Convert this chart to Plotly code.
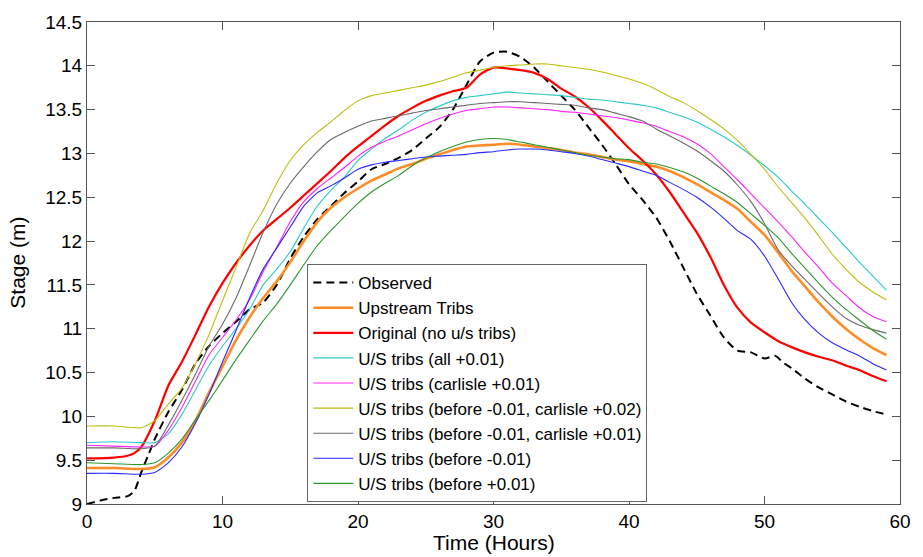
import plotly.graph_objects as go

# ---------------- data ----------------
obs_hours = [0, 1, 2, 3, 3.5, 4, 4.5, 5, 6, 7, 8, 9, 10, 11, 12, 13, 14, 15, 16, 17, 18, 19, 20,
             21, 22, 23, 24, 25, 26, 27, 28, 29, 30, 31, 32, 33, 34, 35, 36, 37, 38, 39, 40, 41,
             42, 43, 44, 45, 46, 47, 48, 49, 50, 50.8, 51.4, 52, 53, 54, 55, 56, 57, 58, 59]
observed = [9.0, 9.04, 9.07, 9.09, 9.15, 9.36, 9.55, 9.74, 10.05, 10.3, 10.6, 10.8, 10.95, 11.08,
            11.22, 11.3, 11.5, 11.8, 12.05, 12.25, 12.4, 12.55, 12.68, 12.82, 12.88, 12.95, 13.04,
            13.17, 13.3, 13.5, 13.78, 14.05, 14.15, 14.16, 14.1, 13.98, 13.82, 13.66, 13.5, 13.3,
            13.1, 12.88, 12.65, 12.47, 12.27, 12.0, 11.7, 11.4, 11.15, 10.9, 10.75, 10.73, 10.66,
            10.69, 10.61, 10.55, 10.43, 10.33, 10.25, 10.17, 10.11, 10.06, 10.02]

hours = [0, 2, 4, 5, 6, 7, 8, 9, 10, 11, 12, 13, 14, 15, 16, 17, 18, 19, 20, 21, 22, 23, 24, 25,
         26, 27, 28, 29, 30, 31, 32, 33, 34, 35, 36, 37, 38, 39, 40, 41, 42, 43, 44, 45, 46, 47,
         48, 49, 50, 51, 52, 53, 54, 55, 56, 57, 58, 59]

red_hours = [0, 2, 3, 3.5, 4, 5, 6, 7, 8, 9, 10, 11, 12, 13, 14, 15, 16, 17, 18, 19, 20, 21, 22,
             23, 24, 25, 26, 27, 28, 29, 30, 31, 32, 33, 34, 35, 36, 37, 38, 39, 40, 41, 42, 43,
             44, 45, 46, 47, 48, 49, 50, 51, 52, 53, 54, 55, 56, 57, 58, 59]
original = [9.52, 9.53, 9.55, 9.58, 9.65, 9.95, 10.35, 10.62, 10.93, 11.25, 11.52, 11.75, 11.95,
            12.12, 12.25, 12.38, 12.52, 12.66, 12.8, 12.95, 13.08, 13.2, 13.32, 13.43, 13.52, 13.6,
            13.66, 13.71, 13.75, 13.9, 13.98, 13.97, 13.95, 13.92, 13.85, 13.74, 13.65, 13.53,
            13.38, 13.22, 13.06, 12.92, 12.76, 12.56, 12.33, 12.1, 11.82, 11.5, 11.24, 11.07,
            10.96, 10.86, 10.79, 10.73, 10.68, 10.64, 10.58, 10.53, 10.46, 10.4]

upstream = [9.41, 9.41, 9.40, 9.42, 9.53, 9.70, 9.95, 10.27, 10.57, 10.87, 11.13, 11.35, 11.54,
            11.76, 12.0, 12.22, 12.38, 12.5, 12.6, 12.69, 12.76, 12.83, 12.88, 12.94, 12.99, 13.04,
            13.08, 13.09, 13.1, 13.11, 13.1, 13.08, 13.06, 13.04, 13.01, 12.99, 12.96, 12.93,
            12.91, 12.88, 12.85, 12.8, 12.73, 12.65, 12.56, 12.47, 12.37, 12.22, 12.07, 11.87,
            11.66, 11.48, 11.3, 11.14, 11.0, 10.88, 10.78, 10.7]

all_p01 = [9.70, 9.71, 9.70, 9.70, 9.80, 10.02, 10.3, 10.58, 10.8, 11.0, 11.22, 11.5, 11.68, 11.88,
           12.15, 12.4, 12.58, 12.73, 12.92, 13.05, 13.17, 13.27, 13.38, 13.47, 13.54, 13.6, 13.64,
           13.66, 13.68, 13.7, 13.69, 13.68, 13.67, 13.66, 13.64, 13.62, 13.61, 13.59, 13.57,
           13.55, 13.52, 13.47, 13.42, 13.36, 13.28, 13.19, 13.09, 12.98, 12.86, 12.73, 12.57,
           12.42, 12.26, 12.1, 11.93, 11.76, 11.6, 11.44]

carlisle_p01 = [9.67, 9.66, 9.65, 9.66, 9.84, 10.1, 10.4, 10.7, 10.9, 11.1, 11.33, 11.65, 11.93,
                12.22, 12.45, 12.6, 12.72, 12.84, 12.97, 13.07, 13.14, 13.2, 13.27, 13.34, 13.4,
                13.45, 13.49, 13.51, 13.53, 13.53, 13.52, 13.51, 13.5, 13.48, 13.47, 13.45, 13.43,
                13.41, 13.38, 13.35, 13.31, 13.25, 13.19, 13.11, 13.0, 12.85, 12.7, 12.54, 12.38,
                12.22, 12.05, 11.87, 11.7, 11.52, 11.38, 11.24, 11.14, 11.08]

bef_m01_carl_p02 = [9.89, 9.89, 9.87, 9.95, 10.14, 10.32, 10.6, 10.93, 11.32, 11.7, 12.09, 12.35,
                    12.66, 12.92, 13.1, 13.24, 13.36, 13.49, 13.6, 13.66, 13.69, 13.72, 13.75,
                    13.78, 13.82, 13.87, 13.92, 13.95, 13.98, 14.0, 14.01, 14.02, 14.02, 14.0,
                    13.98, 13.96, 13.93, 13.89, 13.85, 13.8, 13.73, 13.65, 13.58, 13.49, 13.39,
                    13.28, 13.15, 12.99, 12.82, 12.62, 12.44, 12.26, 12.06, 11.85, 11.68, 11.53,
                    11.42, 11.33]

bef_m01_carl_p01 = [9.64, 9.64, 9.63, 9.66, 9.9, 10.18, 10.48, 10.8, 11.05, 11.35, 11.72, 12.1,
                    12.42, 12.66, 12.85, 13.02, 13.16, 13.24, 13.31, 13.37, 13.4, 13.43, 13.46,
                    13.49, 13.51, 13.53, 13.55, 13.57, 13.58, 13.59, 13.59, 13.58, 13.57, 13.56,
                    13.55, 13.52, 13.5, 13.46, 13.42, 13.37, 13.28, 13.2, 13.12, 13.03, 12.92,
                    12.8, 12.64, 12.45, 12.2, 11.9, 11.72, 11.56, 11.4, 11.25, 11.12, 11.04,
                    10.99, 10.95]

before_m01 = [9.35, 9.35, 9.34, 9.36, 9.47, 9.65, 9.92, 10.25, 10.62, 10.98, 11.35, 11.68, 11.92,
              12.16, 12.4, 12.55, 12.63, 12.72, 12.82, 12.87, 12.9, 12.92, 12.94, 12.96, 12.97,
              12.98, 12.99, 13.01, 13.02, 13.04, 13.05, 13.05, 13.04, 13.02, 13.0, 12.97, 12.93,
              12.89, 12.85, 12.8, 12.75, 12.67, 12.59, 12.5, 12.39, 12.26, 12.12, 12.02, 11.83,
              11.57, 11.3, 11.1, 10.95, 10.84, 10.76, 10.69, 10.6, 10.53]

before_p01 = [9.47, 9.46, 9.45, 9.47, 9.58, 9.74, 9.96, 10.18, 10.41, 10.65, 10.87, 11.09, 11.28,
              11.5, 11.73, 11.95, 12.12, 12.28, 12.43, 12.56, 12.66, 12.75, 12.86, 12.95, 13.02,
              13.08, 13.13, 13.16, 13.17, 13.16, 13.13, 13.1, 13.07, 13.04, 13.01, 12.98, 12.96,
              12.94, 12.93, 12.9, 12.88, 12.84, 12.79, 12.72, 12.63, 12.54, 12.44, 12.31, 12.18,
              12.04, 11.86, 11.69, 11.52, 11.36, 11.22, 11.1, 10.98, 10.88]

x_ticks = [0, 10, 20, 30, 40, 50, 60]
y_ticks = [9, 9.5, 10, 10.5, 11, 11.5, 12, 12.5, 13, 13.5, 14, 14.5]
y_tick_text = ["9", "9.5", "10", "10.5", "11", "11.5", "12", "12.5", "13", "13.5", "14", "14.5"]

# ---------------- figure ----------------
series = [
    ("Observed", obs_hours, observed, "#000000", 2.0, "8px,5px"),
    ("Upstream Tribs", hours, upstream, "#FF8C26", 2.6, "solid"),
    ("Original (no u/s tribs)", red_hours, original, "#FF0000", 2.2, "solid"),
    ("U/S tribs (all +0.01)", hours, all_p01, "#2EC8C8", 1.1, "solid"),
    ("U/S tribs (carlisle +0.01)", hours, carlisle_p01, "#FF22FF", 1.1, "solid"),
    ("U/S tribs (before -0.01, carlisle +0.02)", hours, bef_m01_carl_p02, "#BDBD10", 1.1, "solid"),
    ("U/S tribs (before -0.01, carlisle +0.01)", hours, bef_m01_carl_p01, "#6A6A6A", 1.1, "solid"),
    ("U/S tribs (before -0.01)", hours, before_m01, "#2828FF", 1.1, "solid"),
    ("U/S tribs (before +0.01)", hours, before_p01, "#2E962E", 1.1, "solid"),
]

fig = go.Figure()
for name, xs, ys, color, width, dash in series:
    fig.add_trace(go.Scatter(x=xs, y=ys, name=name, mode="lines",
                             line=dict(color=color, width=width, dash=dash, shape="spline",
                                       smoothing=0.6)))

font_family = "Liberation Sans, Arial, sans-serif"
axis_common = dict(showgrid=False, zeroline=False, showline=True, linecolor="#555555",
                   linewidth=1, mirror="ticks", ticks="inside", ticklen=8, tickcolor="#555555",
                   tickfont=dict(family=font_family, size=19, color="#000000"))

fig.update_layout(
    width=923, height=557,
    margin=dict(l=87, r=16, t=21, b=53),
    paper_bgcolor="white", plot_bgcolor="white",
    font=dict(family=font_family, color="#000000"),
    xaxis=dict(range=[0, 60], tickvals=x_ticks, ticktext=[str(v) for v in x_ticks], **axis_common),
    yaxis=dict(range=[9, 14.5], tickvals=y_ticks, ticktext=y_tick_text, **axis_common),
    legend=dict(x=0.271, y=0.004, xanchor="left", yanchor="bottom",
                bgcolor="white", bordercolor="#666666", borderwidth=1,
                font=dict(family=font_family, size=17, color="#000000"),
                itemwidth=40, tracegroupgap=0, entrywidth=318, entrywidthmode="pixels"),
    annotations=[
        dict(text="Time (Hours)", xref="paper", yref="paper", x=0.501, y=-0.0795,
             xanchor="center", yanchor="middle", showarrow=False,
             font=dict(family=font_family, size=21, color="#000000")),
        dict(text="Stage (m)", xref="paper", yref="paper", x=-0.0865, y=0.5,
             xanchor="center", yanchor="middle", showarrow=False, textangle=-90,
             font=dict(family=font_family, size=21, color="#000000")),
    ],
)

fig.write_html("out.html")
